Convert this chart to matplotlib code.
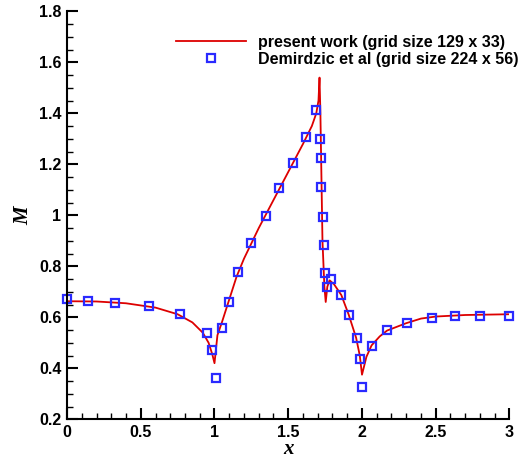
"""Mach number distribution along the wall: present work vs Demirdzic et al."""

import matplotlib
matplotlib.use("Agg")
import matplotlib.pyplot as plt
from matplotlib.ticker import MultipleLocator, FormatStrFormatter

# present work (grid size 129 x 33)
line_x = [0.0, 0.2, 0.4, 0.6, 0.75, 0.85, 0.92, 0.96, 0.985, 1.0, 1.02, 1.05,
          1.1, 1.15, 1.2, 1.3, 1.4, 1.5, 1.6, 1.66, 1.69, 1.705, 1.712, 1.718,
          1.725, 1.732, 1.745, 1.754, 1.765, 1.78, 1.81, 1.86, 1.91, 1.96,
          1.985, 2.0, 2.03, 2.065, 2.12, 2.17, 2.3, 2.4, 2.5, 2.7, 3.0]
line_m = [0.663, 0.662, 0.655, 0.638, 0.612, 0.58, 0.54, 0.50, 0.455, 0.42,
          0.53, 0.58, 0.67, 0.76, 0.83, 0.95, 1.06, 1.17, 1.28, 1.35, 1.40,
          1.45, 1.54, 1.40, 1.15, 0.90, 0.72, 0.66, 0.72, 0.745, 0.73, 0.687,
          0.61, 0.52, 0.45, 0.375, 0.445, 0.49, 0.525, 0.548, 0.577, 0.595,
          0.603, 0.609, 0.612]

# Demirdzic et al (grid size 224 x 56)
ref_x = [0.002, 0.145, 0.325, 0.558, 0.765, 0.947, 0.985, 1.008, 1.049, 1.096,
         1.16, 1.25, 1.35, 1.44, 1.53, 1.62, 1.69, 1.715, 1.722, 1.722, 1.733,
         1.74, 1.747, 1.765, 1.79, 1.856, 1.912, 1.964, 1.986, 2.002, 2.07,
         2.167, 2.307, 2.477, 2.633, 2.80, 3.0]
ref_m = [0.671, 0.664, 0.657, 0.645, 0.613, 0.54, 0.472, 0.363, 0.559, 0.66,
         0.777, 0.89, 0.997, 1.106, 1.204, 1.306, 1.414, 1.299, 1.226, 1.110,
         0.992, 0.884, 0.772, 0.72, 0.75, 0.687, 0.609, 0.52, 0.436, 0.328,
         0.487, 0.55, 0.576, 0.596, 0.605, 0.605, 0.606]

W, H = 519, 458

fig = plt.figure(figsize=(W / 100, H / 100), dpi=100)
ax = fig.add_axes([67 / W, 1 - 419.3 / H, 442.5 / W, 408 / H])

ax.plot(line_x, line_m, color="#dd0000", linewidth=1.3,
        label="present work (grid size 129 x 33)")
ax.plot(ref_x, ref_m, linestyle="none", marker="s", markersize=6.3,
        markerfacecolor="none", markeredgecolor="#2a2aff", markeredgewidth=1.6,
        label="Demirdzic et al (grid size 224 x 56)", clip_on=False)

ax.set_xlim(0, 3)
ax.set_ylim(0.2, 1.8)
ax.xaxis.set_major_locator(MultipleLocator(0.5))
ax.xaxis.set_minor_locator(MultipleLocator(0.1))
ax.yaxis.set_major_locator(MultipleLocator(0.2))
ax.yaxis.set_minor_locator(MultipleLocator(0.05))
ax.xaxis.set_major_formatter(FormatStrFormatter("%g"))
ax.yaxis.set_major_formatter(FormatStrFormatter("%g"))

for side in ["top", "right"]:
    ax.spines[side].set_visible(False)
for side in ["left", "bottom"]:
    ax.spines[side].set_linewidth(1.5)

ax.tick_params(which="major", direction="in", length=8, width=1.5, pad=4)
ax.tick_params(which="minor", direction="in", length=4, width=1.0)
for lab in ax.get_xticklabels() + ax.get_yticklabels():
    lab.set_fontfamily("Liberation Sans")
    lab.set_fontweight("bold")
    lab.set_fontsize(11.5)

ax.set_xlabel("x", family="Liberation Serif", style="italic", weight="bold",
              fontsize=15, va="center")
ax.xaxis.set_label_coords(0.5, (419.3 - 449) / 408)
ax.set_ylabel("M", family="Liberation Serif", style="italic", weight="bold",
              fontsize=15, labelpad=4)

ax.legend(loc="upper left", bbox_to_anchor=(176 / W, 1 - 35 / H),
          bbox_transform=fig.transFigure, frameon=False, borderpad=0,
          borderaxespad=0, handlelength=4.4, handletextpad=0.75,
          labelspacing=0.13,
          prop={"family": "Liberation Sans", "weight": "bold", "size": 11.5})

fig.savefig("out.png", dpi=100)
